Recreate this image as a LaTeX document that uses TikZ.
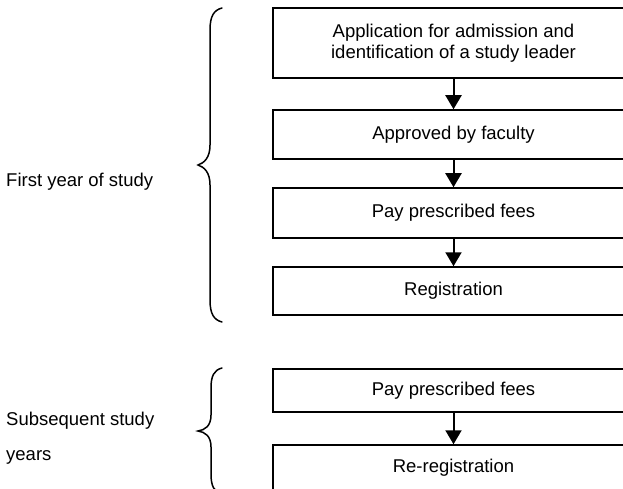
\documentclass[tikz,border=0pt]{standalone}
\usepackage{fontspec}
\setmainfont{Liberation Sans}
\usetikzlibrary{arrows.meta}
\begin{document}
\begin{tikzpicture}[x=1pt,y=1pt,
  every node/.style={font=\fontsize{18.5}{21.5}\selectfont},
  stepbox/.style={draw=black,line width=1.5pt,rectangle,minimum width=361pt,inner sep=0pt,align=center},
  flow/.style={line width=2pt,-{Triangle[length=14pt,width=16pt]}},
  bracket/.style={line width=1.5pt,line cap=round}]
\clip (0,0) rectangle (623,-489);
\fill[white] (0,0) rectangle (623,-489);
% boxes of the first year
\node[stepbox,minimum height=70pt] (b1) at (453.5,-43) {Application for admission and\\identification of a study leader};
\node[stepbox,minimum height=49pt] (b2) at (453.5,-134.5) {Approved by faculty};
\node[stepbox,minimum height=50pt] (b3) at (453.5,-213) {Pay prescribed fees};
\node[stepbox,minimum height=48pt] (b4) at (453.5,-291) {Registration};
% boxes of subsequent years
\node[stepbox,minimum height=43pt] (b5) at (453.5,-390.5) {Pay prescribed fees};
\node[stepbox,minimum height=46pt] (b6) at (453.5,-468) {Re-registration};
% arrows
\draw[flow] (b1) -- (b2);
\draw[flow] (b2) -- (b3);
\draw[flow] (b3) -- (b4);
\draw[flow] (b5) -- (b6);
% labels
\node[anchor=base west,inner sep=0pt] (l1) at (6,-186) {First year of study};
\node[anchor=base west,inner sep=0pt] (l2) at (6,-425) {Subsequent study};
\node[anchor=base west,inner sep=0pt] (l3) at (6,-460) {years};
% braces
\draw[bracket] (222,-8) .. controls (214,-10) and (210,-16) .. (210,-30) -- (210,-145)
  .. controls (210,-158) and (204,-163) .. (198,-165)
  .. controls (204,-167) and (210,-172) .. (210,-185) -- (210,-300)
  .. controls (210,-314) and (214,-320) .. (222,-322);
\draw[bracket] (222,-368) .. controls (214,-370) and (211,-376) .. (211,-388) -- (211,-415)
  .. controls (211,-426) and (205,-430) .. (198,-431)
  .. controls (205,-432) and (211,-436) .. (211,-447) -- (211,-474)
  .. controls (211,-486) and (214,-492) .. (222,-494);
\end{tikzpicture}
\end{document}
